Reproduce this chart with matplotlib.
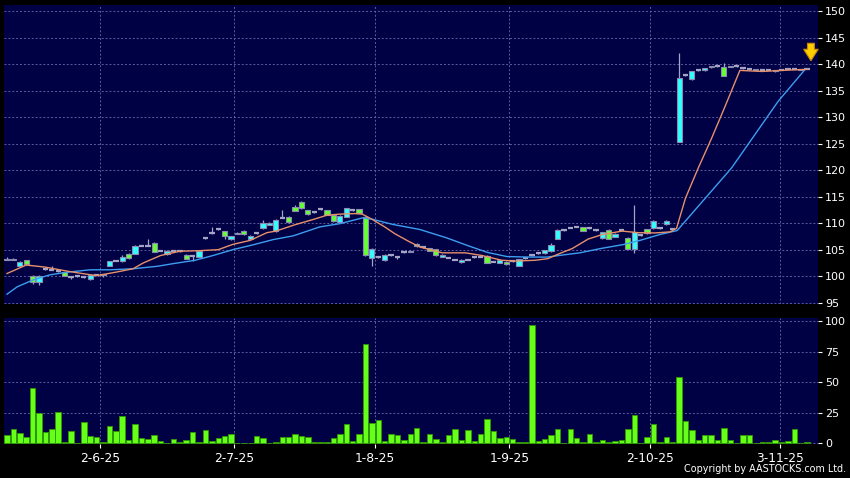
import matplotlib
matplotlib.use("Agg")
import matplotlib.pyplot as plt
import numpy as np

# daily bars, oldest first (index 0 .. 125)
opens = [103.3, 103.1, 102.0, 103.0, 100.1, 98.9, 101.3, 101.2, 100.9, 100.7,
         99.8, 100.0, 99.8, 99.4, 100.3, 100.4, 102.0, 102.9, 102.8, 104.2,
         104.2, 105.7, 105.7, 106.3, 104.8, 104.1, 104.7, 104.7, 104.0, 103.8,
         103.7, 107.2, 108.1, 108.8, 108.5, 107.0, 108.2, 108.6, 107.0, 108.1,
         109.0, 109.7, 108.5, 111.0, 111.2, 113.0, 114.0, 112.45, 112.1, 112.6,
         112.45, 111.5, 110.2, 111.2, 112.45, 112.6, 111.2, 103.4, 103.6, 103.0,
         103.9, 103.6, 104.55, 104.6, 105.6, 105.5, 105.3, 105.05, 103.7, 103.5,
         103.1, 102.6, 103.1, 103.6, 103.7, 103.8, 102.7, 102.5, 102.7, 102.8,
         102.0, 103.4, 103.9, 104.35, 104.35, 104.7, 107.1, 108.7, 109.1, 109.3,
         109.2, 109.0, 108.7, 107.2, 108.7, 107.4, 108.7, 107.2, 105.05, 107.7,
         108.8, 109.0, 109.0, 109.75, 108.9, 125.3, 137.9, 137.1, 138.8, 138.8,
         139.35, 139.6, 139.35, 139.6, 139.6, 139.2, 139.0, 139.0, 138.9, 138.9,
         138.6, 138.9, 139.1, 139.1, 138.9, 139.1]
closes = [103.1, 103.3, 102.7, 102.2, 98.9, 100.1, 101.3, 101.2, 100.9, 100.1,
          99.8, 100.0, 99.8, 100.2, 100.3, 100.2, 102.8, 102.9, 103.7, 103.5,
          105.75, 105.7, 105.7, 104.6, 104.8, 104.8, 104.7, 104.7, 103.3, 103.8,
          104.7, 107.2, 108.1, 108.8, 107.6, 107.5, 108.0, 107.9, 107.65, 108.1,
          110.1, 110.1, 110.6, 111.0, 110.2, 112.3, 112.8, 111.7, 112.1, 112.6,
          111.6, 110.4, 111.4, 112.8, 112.45, 112.0, 103.9, 105.2, 103.6, 104.0,
          103.9, 103.6, 104.55, 104.8, 106.1, 105.5, 104.8, 103.9, 104.0, 103.5,
          103.1, 103.1, 103.1, 103.6, 103.7, 102.5, 102.7, 103.0, 102.2, 102.8,
          103.2, 103.4, 103.9, 104.35, 104.9, 105.8, 108.7, 108.7, 109.1, 109.3,
          108.6, 109.0, 108.7, 108.35, 107.1, 108.0, 108.7, 105.2, 108.35, 107.7,
          108.15, 110.4, 109.0, 110.4, 108.9, 137.3, 137.9, 138.6, 138.8, 139.2,
          139.6, 139.6, 137.75, 139.5, 139.6, 139.2, 139.0, 138.85, 138.9, 138.9,
          138.8, 138.9, 139.1, 139.1, 139.0, 139.1]
highs = [103.6, 103.4, 102.8, 103.1, 100.2, 100.3, 101.5, 102.0, 101.0, 100.8,
         99.9, 100.1, 99.9, 100.3, 100.4, 100.5, 102.9, 103.0, 104.0, 104.3,
         105.9, 105.8, 107.1, 106.4, 104.9, 104.9, 104.8, 104.8, 104.1, 103.9,
         104.8, 107.3, 109.2, 108.9, 108.6, 107.6, 108.3, 108.7, 107.7, 108.2,
         110.5, 110.2, 110.7, 112.5, 111.3, 113.5, 114.1, 112.5, 112.2, 112.9,
         112.5, 111.6, 111.5, 112.9, 112.6, 112.7, 111.3, 105.3, 103.7, 104.1,
         104.0, 103.7, 104.7, 104.9, 106.2, 105.6, 105.4, 105.1, 104.1, 103.6,
         103.2, 103.2, 103.2, 103.8, 103.8, 103.9, 102.8, 103.1, 102.8, 102.9,
         103.3, 103.5, 104.0, 104.5, 105.0, 106.3, 108.8, 108.8, 109.2, 109.4,
         109.3, 109.1, 108.8, 108.4, 108.8, 108.1, 108.8, 107.3, 113.4, 107.8,
         108.9, 110.6, 109.1, 110.5, 109.0, 142.0, 138.0, 138.7, 138.9, 139.3,
         139.7, 139.7, 140.2, 139.7, 139.7, 139.3, 139.1, 139.1, 139.0, 139.0,
         138.9, 139.0, 139.2, 139.2, 139.1, 139.2]
lows = [103.0, 103.0, 101.9, 102.1, 98.6, 98.4, 101.2, 101.1, 100.8, 100.0,
        99.5, 99.9, 99.6, 99.3, 100.2, 99.9, 101.9, 102.8, 102.7, 103.3,
        104.1, 105.6, 105.6, 104.5, 104.7, 104.0, 104.6, 104.6, 103.2, 102.8,
        103.6, 107.1, 108.0, 108.7, 107.0, 106.9, 107.9, 107.8, 106.9, 108.0,
        108.9, 109.6, 108.4, 110.9, 110.1, 112.2, 112.7, 111.6, 112.0, 112.5,
        111.5, 110.3, 110.1, 111.1, 112.3, 111.9, 103.8, 101.9, 103.5, 102.9,
        103.8, 103.3, 104.45, 104.5, 105.5, 105.4, 104.7, 103.8, 103.6, 103.4,
        103.0, 102.5, 103.0, 103.5, 103.6, 102.4, 102.6, 102.4, 102.1, 102.7,
        101.9, 103.3, 103.8, 104.25, 104.25, 104.6, 107.0, 108.6, 109.0, 109.2,
        108.5, 108.9, 108.6, 107.1, 107.0, 107.3, 108.6, 105.1, 104.4, 107.6,
        108.0, 108.9, 108.9, 109.6, 108.8, 125.3, 137.8, 137.0, 138.7, 138.7,
        139.3, 139.5, 137.7, 139.4, 139.5, 139.1, 138.9, 138.8, 138.8, 138.8,
        138.5, 138.8, 139.0, 139.0, 138.8, 139.0]
volume = [6.8, 11.4, 8.7, 5.2, 45, 25, 9, 11.4, 25.3, 0.8,
          9.8, 0.3, 17.2, 6, 4.9, 1.4, 13.9, 10.1, 22.3, 3,
          16.1, 4.1, 3.3, 6.8, 2.2, 0.3, 3.5, 0.8, 2.5, 9,
          1.1, 10.9, 1.6, 4.1, 5.7, 7.9, 0.3, 0.3, 0.3, 6.3,
          4.4, 0.5, 1.4, 5.2, 5.2, 7.4, 6.3, 4.9, 0.8, 0.8,
          1.1, 4.4, 7.4, 15.5, 1.9, 7.6, 81.2, 16.9, 19.1, 1.6,
          7.4, 6.5, 2.7, 7.4, 12.3, 1.1, 7.4, 3.3, 1.1, 6.8,
          11.7, 2.7, 10.6, 1.9, 7.4, 19.9, 10.1, 4.4, 4.9, 3.3,
          1.1, 1.1, 96.7, 2.2, 3.3, 6.8, 11.7, 0, 11.7, 4.1,
          1.1, 7.4, 1.1, 2.5, 1.1, 1.9, 2.5, 11.4, 22.9, 0.1,
          5.4, 15.8, 1.1, 5.2, 1.4, 54, 18.3, 10.9, 2.5, 6.5,
          6.8, 2.7, 12.8, 2.7, 0.3, 6.8, 6.8, 0.3, 1.1, 1.4,
          3, 1.1, 2.2, 11.7, 0.5, 1.1]

# moving averages (bar index, value)
ma10_idx = [0, 3, 6, 9.4, 12, 14, 17, 19.7, 21.3, 24, 27, 30, 33, 35.3, 38, 40.6,
            42, 45, 48, 50, 52, 54.4, 55.5, 57, 59, 60.6, 62.7, 64.5, 68, 71.6,
            74.2, 77.3, 79.4, 82.5, 84.5, 86.4, 88.3, 90.8, 93, 96.1, 98.6,
            101.25, 103.6, 104.6, 106, 108, 110.1, 112.2, 114.5, 118, 121, 125]
ma10_val = [100.5, 102.1, 101.7, 100.95, 100.45, 100.1, 100.75, 101.4, 102.5,
            103.9, 104.7, 104.8, 105.0, 106.0, 106.75, 108.2, 108.5, 109.7,
            110.75, 111.5, 111.7, 111.8, 111.7, 110.75, 109.3, 108.0, 106.6,
            105.5, 104.4, 104.4, 103.9, 103.0, 102.85, 103.0, 103.3, 104.3,
            105.2, 107.0, 107.85, 108.5, 108.2, 108.15, 108.35, 109.0, 114.7,
            120.4, 126.05, 132.05, 138.8, 138.6, 138.8, 139.0]
ma20_idx = [0, 1.6, 4.1, 6.7, 9.4, 13, 16.1, 19.7, 23.4, 25.9, 29.4, 32.2, 35.3,
            38.4, 41.6, 44.7, 48.9, 52, 55.6, 57.2, 60.3, 64.5, 68.75, 71.9, 75,
            78.1, 81.25, 84.4, 87.5, 89.5, 92.7, 96.25, 98.9, 102, 104.7, 113.2,
            120.5, 124.7, 125]
ma20_val = [96.6, 98.0, 99.3, 100.25, 100.75, 101.2, 101.2, 101.4, 101.85,
            102.35, 103.0, 103.9, 105.0, 105.9, 106.9, 107.6, 109.3, 109.9,
            111.0, 110.7, 109.75, 108.8, 107.2, 105.8, 104.5, 103.7, 103.6,
            103.6, 104.1, 104.4, 105.2, 105.95, 106.75, 107.85, 108.6, 120.4,
            133.0, 139.0, 139.0]

tick_pos = [14.5, 35.5, 57.5, 78.5, 100.5, 120.8]
tick_labels = ["2-6-25", "2-7-25", "1-8-25", "1-9-25", "2-10-25", "3-11-25"]

BG = "#000044"
GRID = "#5c5c9c"
CYAN = "#33ffff"
GREEN = "#66ff33"
EDGE = "#8a8ab2"
DOJI = "#a4a4c4"

fig = plt.figure(figsize=(8.5, 4.78), dpi=100, facecolor="black")
ax = fig.add_axes([0.0047, 0.364, 0.9576, 0.6255], facecolor=BG)
axv = fig.add_axes([0.0047, 0.0711, 0.9576, 0.263], facecolor=BG)

x = np.arange(len(closes))
o = np.array(opens)
c = np.array(closes)
up = c > o
down = c < o
flat = c == o

ax.vlines(x, lows, highs, color=DOJI, lw=0.9, zorder=2)
ax.bar(x[up], (c - o)[up], bottom=o[up], width=0.8, color=CYAN,
       edgecolor=EDGE, lw=0.8, zorder=3)
ax.bar(x[down], (o - c)[down], bottom=c[down], width=0.8, color=GREEN,
       edgecolor=EDGE, lw=0.8, zorder=3)
ax.hlines(c[flat], x[flat] - 0.42, x[flat] + 0.42, color=DOJI, lw=1.6, zorder=3)

ax.plot(ma20_idx, ma20_val, color="#3d9ef0", lw=1.0, zorder=4)
ax.plot(ma10_idx, ma10_val, color="#e8906a", lw=1.0, zorder=4)

# marker arrow above the latest bar
ax.annotate("", xy=(x[-1] + 0.6, highs[-1] + 0.9),
            xytext=(0, 23), textcoords="offset pixels",
            arrowprops=dict(arrowstyle="simple,head_length=0.75,head_width=0.95,tail_width=0.45",
                            mutation_scale=11, fc="#ffcc00", ec="#c98a00", lw=0.8),
            zorder=6)

axv.bar(x, volume, width=0.85, color="#66ff1a", edgecolor="#2f9a00", lw=0.6, zorder=3)

for a in (ax, axv):
    a.set_xlim(-0.47, 126.7)
    for s in a.spines.values():
        s.set_visible(False)
    a.yaxis.tick_right()
    a.tick_params(axis="y", colors="white", labelcolor="white", length=3,
                  width=0.8, pad=2, labelsize=8)
    a.set_xticks(tick_pos)
    a.grid(True, color=GRID, ls=(0, (2, 2)), lw=0.7, zorder=0)
    a.set_axisbelow(True)

ax.set_ylim(94.75, 151.13)
ax.set_yticks(np.arange(95, 151, 5))
ax.tick_params(axis="x", length=0, labelbottom=False)

axv.set_ylim(-0.5, 102.2)
axv.set_yticks([0, 25, 50, 75, 100])
axv.set_xticklabels(tick_labels)
axv.tick_params(axis="x", colors="white", labelcolor="white", length=3,
                width=0.8, pad=3, labelsize=8.8)

fig.text(0.996, 0.008, "Copyright by AASTOCKS.com Ltd.", color="white",
         fontsize=6.9, ha="right", va="bottom")

fig.savefig("out.png", dpi=100, facecolor="black")
